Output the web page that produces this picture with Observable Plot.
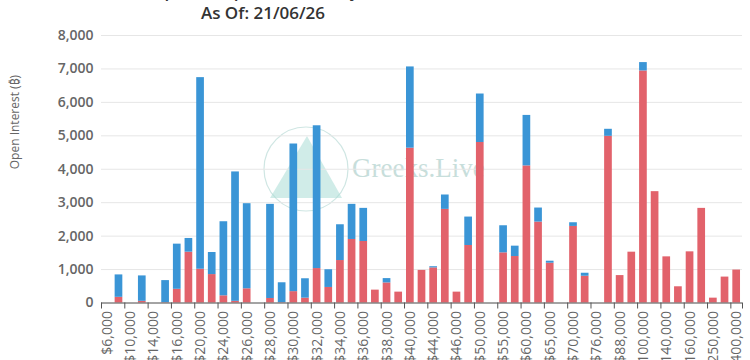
<!DOCTYPE html>
<html>
<head>
<meta charset="utf-8">
<script src="https://cdn.jsdelivr.net/npm/d3@7"></script>
<script src="https://cdn.jsdelivr.net/npm/@observablehq/plot@0.6"></script>
<style>
  html, body { margin: 0; padding: 0; background: #fff; width: 750px; height: 360px; overflow: hidden; }
  #wrap { position: relative; width: 750px; height: 360px; }
  #title { position: relative; height: 25px; overflow: hidden; width: 750px; }
  #title .inner { position: absolute; left: 0; width: 526px; top: -20px; text-align: center;
    font: 600 17px "Open Sans", "Noto Sans", sans-serif; line-height: 22px; color: #333; }
  #wm { position: absolute; left: 0; top: 0; pointer-events: none; }
  #chart { position: absolute; left: 0; top: 25px; }
</style>
</head>
<body>
<div id="wrap">
  <svg id="wm" width="750" height="360">
    <circle cx="306" cy="169" r="42" fill="none" stroke="#cfe6e3" stroke-width="1.2"></circle>
    <polygon points="307,136 270,198 342,198" fill="#a9ddd6" opacity="0.55"></polygon>
    <text x="352" y="177" font-family="Liberation Serif, DejaVu Serif, serif" font-size="27" fill="#c7dedb">Greeks.Live</text>
  </svg>
  <div id="title"><div class="inner">BTC Options Open Interest By Strike<br>As Of: 21/06/26</div></div>
  <div id="chart"></div>
</div>
<script>
const strikes = ["$6,000","$8,000","$10,000","$12,000","$14,000","$15,000","$16,000","$18,000","$20,000","$22,000",
  "$24,000","$25,000","$26,000","$27,000","$28,000","$29,000","$30,000","$31,000","$32,000","$33,000",
  "$34,000","$35,000","$36,000","$37,000","$38,000","$39,000","$40,000","$42,000","$44,000","$45,000",
  "$46,000","$48,000","$50,000","$52,000","$55,000","$58,000","$60,000","$64,000","$65,000","$68,000",
  "$70,000","$75,000","$76,000","$80,000","$88,000","$90,000","$100,000","$120,000","$140,000","$150,000",
  "$160,000","$200,000","$250,000","$300,000","$400,000"];
const calls = [0,170,0,50,0,10,410,1520,1010,850,
  215,50,425,0,135,10,340,145,1030,465,
  1270,1900,1840,385,600,325,4630,975,1050,2800,
  325,1720,4800,0,1500,1390,4100,2420,1190,0,
  2290,800,0,4985,820,1520,6940,3330,1380,485,
  1530,2830,145,775,985];
const puts = [0,670,0,760,0,660,1350,410,5730,660,
  2215,3870,2545,0,2815,595,4415,580,4270,530,
  1070,1050,990,0,130,0,2430,0,35,430,
  0,850,1450,0,810,310,1510,420,60,0,
  110,90,0,210,0,0,250,0,0,0,
  0,0,0,0,0];
const seriesNames = ["Calls", "Puts"];
const seriesColors = ["#e2626b", "#3a95d6"];
const yTicks = [0,1000,2000,3000,4000,5000,6000,7000,8000];
const tickLabels = strikes.filter((d, i) => i % 2 === 0);
const yTitle = "Open Interest (\u20BF)";

const data = [];
strikes.forEach((s, i) => {
  data.push({strike: s, type: seriesNames[0], value: calls[i]});
  data.push({strike: s, type: seriesNames[1], value: puts[i]});
});

const W = 750, H = 370, mL = 101, mR = 8, mT = 10, mB = 92.5;
const half = (W - mL - mR) / strikes.length / 2;

const chart = Plot.plot({
  width: W, height: H,
  marginLeft: mL, marginRight: mR, marginTop: mT, marginBottom: mB,
  style: {background: "transparent", fontFamily: "'Open Sans', 'Noto Sans', sans-serif"},
  x: {type: "band", domain: strikes, paddingInner: 0.34, paddingOuter: 0.17, align: 0.5},
  y: {domain: [0, 8000]},
  color: {domain: seriesNames, range: seriesColors},
  marks: [
    Plot.gridY({ticks: yTicks, stroke: "#e6e6e6", strokeOpacity: 1}),
    Plot.barY(data, Plot.stackY({x: "strike", y: "value", fill: "type"})),
    Plot.ruleY([0], {stroke: "#555"}),
    Plot.axisY({ticks: yTicks, tickSize: 0, tickPadding: 8, tickFormat: d3.format(","),
      fontSize: 14, fontWeight: 600, fill: "#666", label: null}),
    Plot.axisX({ticks: tickLabels, tickSize: 0, tickPadding: 8, tickRotate: -90,
      fontSize: 14, fill: "#666", label: null}),
    Plot.axisX({ticks: tickLabels, tickSize: 6, dx: -half, stroke: "#555", tickFormat: () => "", label: null}),
    Plot.axisX({ticks: [strikes[strikes.length - 1]], tickSize: 6, dx: half, stroke: "#555", tickFormat: () => "", label: null}),
    Plot.text([yTitle], {frameAnchor: "left", rotate: -90, dx: -86, fontSize: 12, fill: "#666", text: d => d})
  ]
});
document.getElementById("chart").appendChild(chart);
</script>
</body>
</html>
